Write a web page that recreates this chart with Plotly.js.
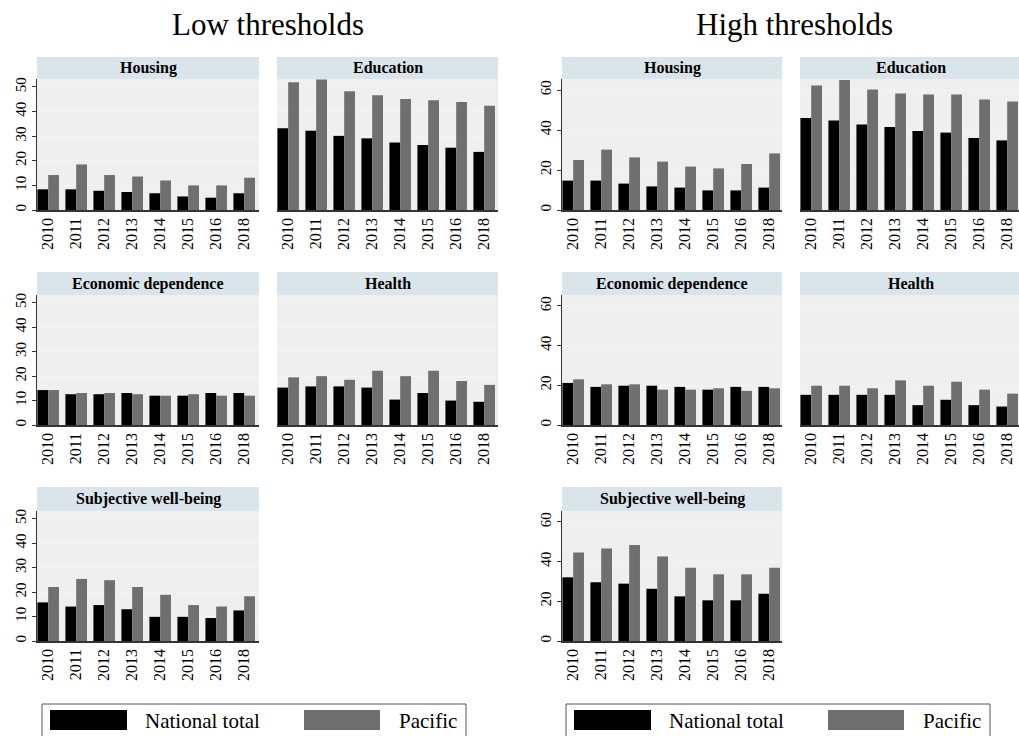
<!DOCTYPE html>
<html>
<head>
<meta charset="utf-8">
<script src="https://cdn.plot.ly/plotly-3.0.1.min.js"></script>
<style>html,body{margin:0;padding:0;background:#fff;}#chart{width:1019px;height:736px;}</style>
</head>
<body>
<div id="chart"></div>
<script>
const years = ['2010','2011','2012','2013','2014','2015','2016','2018'];
const seriesNames = ['National total','Pacific'];
const halfTitles = ['Low thresholds','High thresholds'];
const dimensionNames = ['Housing','Education','Economic dependence','Health','Subjective well-being'];
const lowTicks = [0,10,20,30,40,50];
const highTicks = [0,20,40,60];

// Low thresholds
const lowHousingNT  = [8.4,8.4,7.8,7.3,6.8,5.5,5.0,6.8];
const lowHousingPac = [14.2,18.5,14.2,13.6,12.0,10.0,10.0,13.1];
const lowEduNT      = [33.2,32.2,30.1,29.1,27.4,26.4,25.3,23.6];
const lowEduPac     = [51.9,53.0,48.2,46.6,45.1,44.6,43.9,42.3];
const lowEconNT     = [14.3,12.6,12.6,13.1,12.0,12.0,13.1,13.1];
const lowEconPac    = [14.3,13.1,13.1,12.6,12.0,12.6,12.0,12.0];
const lowHealthNT   = [15.3,15.8,15.8,15.3,10.4,13.1,10.0,9.5];
const lowHealthPac  = [19.5,20.0,18.5,22.2,20.0,22.2,18.0,16.4];
const lowSwbNT      = [15.8,14.1,14.7,13.0,9.9,9.9,9.4,12.5];
const lowSwbPac     = [22.1,25.4,24.9,22.1,18.9,14.7,14.1,18.3];
// High thresholds
const highHousingNT  = [14.7,14.7,13.2,11.8,11.2,9.8,9.8,11.2];
const highHousingPac = [25.0,30.2,26.3,24.2,21.7,20.8,23.0,28.3];
const highEduNT      = [46.0,44.7,42.7,41.5,39.5,38.7,36.0,34.8];
const highEduPac     = [62.3,65.0,60.3,58.3,57.7,57.7,55.2,54.3];
const highEconNT     = [21.2,19.2,19.8,19.8,19.2,17.8,19.2,19.2];
const highEconPac    = [23.0,20.5,20.5,17.8,17.8,18.5,17.2,18.5];
const highHealthNT   = [15.2,15.2,15.2,15.2,10.0,12.7,10.0,9.3];
const highHealthPac  = [19.8,19.8,18.5,22.5,19.8,21.8,17.8,15.8];
const highSwbNT      = [32.1,29.6,28.9,26.3,22.5,20.5,20.5,23.8];
const highSwbPac     = [44.6,46.6,48.4,42.6,36.9,33.6,33.6,36.9];

const W = 1019, H = 736;
const FONT = '"Liberation Serif", "Times New Roman", serif';
const colors = ['#000000', '#6f6f6f'];
const plotBg = '#efefef';
const stripBg = '#dae4eb';

const colPx = [[37,259],[277,498],[562,782],[800,1019]];
const rowPx = [[79,210],[295,425],[511,641]];
const headPx = [[57,79],[272,295],[487,511]];
const pxPerCat = 28.0;

const panels = [
  {name: dimensionNames[0], nt: lowHousingNT,  pac: lowHousingPac,  col:0, row:0, high:false},
  {name: dimensionNames[1], nt: lowEduNT,      pac: lowEduPac,      col:1, row:0, high:false},
  {name: dimensionNames[2], nt: lowEconNT,     pac: lowEconPac,     col:0, row:1, high:false},
  {name: dimensionNames[3], nt: lowHealthNT,   pac: lowHealthPac,   col:1, row:1, high:false},
  {name: dimensionNames[4], nt: lowSwbNT,      pac: lowSwbPac,      col:0, row:2, high:false},
  {name: dimensionNames[0], nt: highHousingNT, pac: highHousingPac, col:2, row:0, high:true},
  {name: dimensionNames[1], nt: highEduNT,     pac: highEduPac,     col:3, row:0, high:true},
  {name: dimensionNames[2], nt: highEconNT,    pac: highEconPac,    col:2, row:1, high:true},
  {name: dimensionNames[3], nt: highHealthNT,  pac: highHealthPac,  col:3, row:1, high:true},
  {name: dimensionNames[4], nt: highSwbNT,     pac: highSwbPac,     col:2, row:2, high:true}
];

const fx = px => px / W;
const fy = px => 1 - px / H;

const data = [];
const layout = {
  width: W, height: H,
  margin: {l:0, r:0, t:0, b:0},
  paper_bgcolor: '#ffffff',
  plot_bgcolor: plotBg,
  barmode: 'group',
  bargap: 0.23,
  bargroupgap: 0,
  showlegend: false,
  font: {family: FONT, color: '#000'},
  shapes: [],
  annotations: []
};

panels.forEach((p, i) => {
  const k = i + 1;
  const xa = 'x' + (k === 1 ? '' : k);
  const ya = 'y' + (k === 1 ? '' : k);
  const xk = 'xaxis' + (k === 1 ? '' : k);
  const yk = 'yaxis' + (k === 1 ? '' : k);
  const cx = colPx[p.col], ry = rowPx[p.row], hy = headPx[p.row];
  const width = cx[1] - cx[0];
  const showY = (p.col === 0 || p.col === 2);

  data.push({type:'bar', x: years, y: p.nt, name: seriesNames[0], xaxis: xa, yaxis: ya,
             marker:{color: colors[0], line:{width:0}}, hoverinfo:'y'});
  data.push({type:'bar', x: years, y: p.pac, name: seriesNames[1], xaxis: xa, yaxis: ya,
             marker:{color: colors[1], line:{width:0}}, hoverinfo:'y'});

  layout[xk] = {
    domain: [fx(cx[0]), fx(cx[1])],
    anchor: ya,
    type: 'category',
    range: [-0.40, -0.40 + width / pxPerCat],
    tickangle: -90,
    tickfont: {family: FONT, size: 16, color: '#000'},
    showline: true, linecolor: '#333', linewidth: 1.5,
    ticks: '', showgrid: false, zeroline: false, fixedrange: true
  };
  layout[yk] = {
    domain: [fy(ry[1]), fy(ry[0])],
    anchor: xa,
    range: p.high ? [0, 65.5] : [0, 53.2],
    tickvals: p.high ? highTicks : lowTicks,
    ticktext: (p.high ? highTicks : lowTicks).map(String),
    showticklabels: showY,
    tickangle: -90,
    tickfont: {family: FONT, size: 15, color: '#000'},
    ticks: showY ? 'outside' : '', ticklen: 4, tickcolor: '#333',
    showline: showY, linecolor: '#333', linewidth: 1,
    showgrid: true, gridcolor: '#f4f4f4', gridwidth: 1,
    zeroline: false, fixedrange: true
  };

  // header strip
  layout.shapes.push({type:'rect', xref:'paper', yref:'paper',
    x0: fx(cx[0]), x1: fx(cx[1]), y0: fy(hy[1]), y1: fy(hy[0]),
    fillcolor: stripBg, line:{width:0}, layer:'below'});
  layout.annotations.push({xref:'paper', yref:'paper',
    x: fx((cx[0] + (p.col === 3 ? 1022 : cx[1])) / 2), y: fy((hy[0] + hy[1]) / 2),
    text: '<b>' + p.name + '</b>', showarrow:false, xanchor:'center', yanchor:'middle',
    font:{family: FONT, size: 16, color:'#000'}});
});

// half titles
[[268, halfTitles[0]], [794, halfTitles[1]]].forEach(([x, t]) => {
  layout.annotations.push({xref:'paper', yref:'paper', x: fx(x), y: fy(25),
    text: t, showarrow:false, xanchor:'center', yanchor:'middle',
    font:{family: FONT, size: 31, color:'#000'}});
});

// legends (one per half)
[0, 524].forEach(off => {
  layout.shapes.push({type:'rect', xref:'paper', yref:'paper',
    x0: fx(42 + off), x1: fx(466 + off), y0: fy(742), y1: fy(704),
    fillcolor:'rgba(0,0,0,0)', line:{color:'#555', width:1}});
  layout.shapes.push({type:'rect', xref:'paper', yref:'paper',
    x0: fx(50 + off), x1: fx(127 + off), y0: fy(730), y1: fy(710),
    fillcolor: colors[0], line:{width:0}});
  layout.shapes.push({type:'rect', xref:'paper', yref:'paper',
    x0: fx(304 + off), x1: fx(380 + off), y0: fy(730), y1: fy(710),
    fillcolor: colors[1], line:{width:0}});
  layout.annotations.push({xref:'paper', yref:'paper', x: fx(143 + off), y: fy(721),
    text: seriesNames[0], showarrow:false, xanchor:'left', yanchor:'middle',
    font:{family: FONT, size: 21, color:'#000'}});
  layout.annotations.push({xref:'paper', yref:'paper', x: fx(397 + off), y: fy(721),
    text: seriesNames[1], showarrow:false, xanchor:'left', yanchor:'middle',
    font:{family: FONT, size: 21, color:'#000'}});
});

Plotly.newPlot('chart', data, layout, {displayModeBar:false, staticPlot:true});
</script>
</body>
</html>
